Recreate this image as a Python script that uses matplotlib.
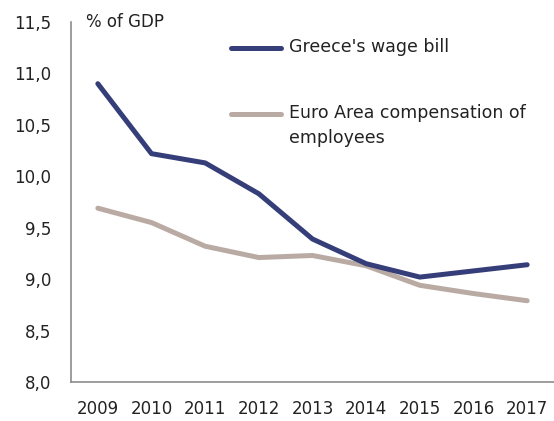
import matplotlib
matplotlib.use("Agg")
import matplotlib.pyplot as plt

# Data (% of GDP)
years = ["2009", "2010", "2011", "2012", "2013", "2014", "2015", "2016", "2017"]
greece_wage_bill = [10.90, 10.22, 10.13, 9.83, 9.39, 9.15, 9.02, 9.08, 9.14]
euro_area_comp = [9.69, 9.55, 9.32, 9.21, 9.23, 9.13, 8.94, 8.86, 8.79]

y_ticks = [8.0, 8.5, 9.0, 9.5, 10.0, 10.5, 11.0, 11.5]
y_tick_labels = ["8,0", "8,5", "9,0", "9,5", "10,0", "10,5", "11,0", "11,5"]

navy = "#353e78"
taupe = "#b9aba3"
grey = "#8c8c8c"

plt.rcParams['font.family'] = ['DejaVu Sans']

W, H = 554, 421
fig = plt.figure(figsize=(W / 100, H / 100), dpi=100)
ax = fig.add_axes([71 / W, (H - 382) / H, (W - 71) / W, (382 - 22) / H])

x = list(range(len(years)))
ax.plot(x, euro_area_comp, color=taupe, lw=3.6, solid_capstyle="round", solid_joinstyle="round")
ax.plot(x, greece_wage_bill, color=navy, lw=3.6, solid_capstyle="round", solid_joinstyle="round")

ax.set_xlim(-0.5, len(years) - 0.5)
ax.set_ylim(8.0, 11.5)
ax.set_xticks(x)
ax.set_xticklabels(years)
ax.set_yticks(y_ticks)
ax.set_yticklabels(y_tick_labels)
ax.tick_params(axis="both", length=0, labelsize=12, colors="#222222")
ax.tick_params(axis="y", pad=14)
ax.tick_params(axis="x", pad=13)

for side in ["top", "right"]:
    ax.spines[side].set_visible(False)
for side in ["left", "bottom"]:
    ax.spines[side].set_color(grey)
    ax.spines[side].set_linewidth(1.2)

fig.text(86 / W, 1 - 22 / H, "% of GDP", fontsize=12, color="#222222", va="center", ha="left")

# legend drawn by hand so the handle sits on the first text line
legend_items = [("Greece's wage bill", navy, 48),
                ("Euro Area compensation of\nemployees", taupe, 114)]
for label, col, ypx in legend_items:
    fig.add_artist(plt.Line2D([231 / W, 281 / W], [1 - ypx / H, 1 - ypx / H],
                              color=col, lw=3.6, solid_capstyle="round", transform=fig.transFigure))
    fig.text(289 / W, 1 - (ypx - 9.5) / H, label, fontsize=12.5, color="#222222",
             va="top", ha="left", linespacing=1.45)

fig.savefig("out.png", dpi=100)
